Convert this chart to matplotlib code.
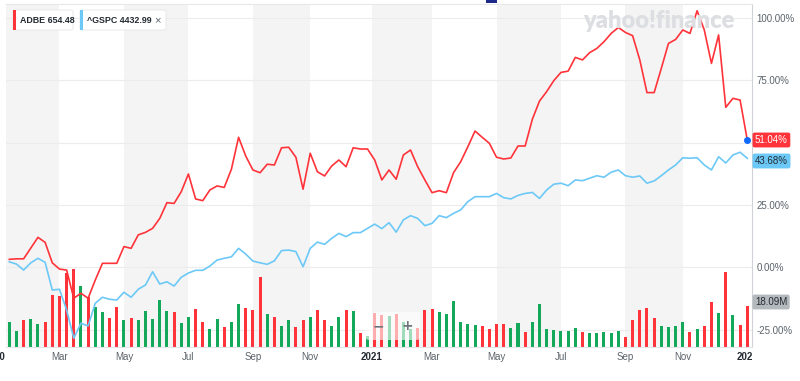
import numpy as np
import pandas as pd
import matplotlib
matplotlib.use("Agg")
import matplotlib.pyplot as plt
from matplotlib.patches import Rectangle, FancyBboxPatch
from matplotlib.transforms import blended_transform_factory, Bbox

plt.rcParams['font.family'] = ['Liberation Sans', 'DejaVu Sans']

# weekly data, Jan 2020 - Jan 2022 (percent change since start)
weeks = pd.date_range('2020-01-13', periods=104, freq='7D')

adbe_pct = [3.2, 3.4, 3.4, 7.7, 12.0, 10.0, 1.8, -0.7, -1.1, -12.4,
            -10.4, -12.4, -5.1, 1.6, 1.6, 1.6, 8.3, 7.6, 13.0, 14.0,
            15.6, 19.6, 25.9, 25.6, 30.3, 37.4, 27.4, 26.7, 31.0, 32.6,
            32.0, 39.3, 52.1, 44.6, 39.0, 37.9, 41.3, 41.0, 47.9, 48.1,
            44.1, 31.3, 45.7, 38.3, 36.6, 40.6, 43.0, 40.3, 47.9, 47.4,
            47.4, 43.0, 35.0, 39.0, 35.3, 45.0, 47.0, 40.3, 35.0, 29.9,
            30.7, 29.9, 37.9, 42.3, 48.3, 54.6, 52.1, 49.7, 44.1, 43.4,
            43.8, 48.6, 48.6, 59.3, 66.6, 70.4, 74.8, 78.1, 78.6, 84.1,
            83.1, 86.0, 87.7, 90.4, 93.7, 96.1, 94.1, 92.8, 83.1, 70.0,
            70.0, 79.7, 89.7, 91.3, 95.1, 93.7, 102.8, 95.1, 81.7, 93.1,
            64.1, 67.7, 67.0, 51.04]

gspc_pct = [2.2, 1.3, -1.1, 1.8, 3.6, 2.0, -9.1, -8.8, -17.1, -28.4,
            -22.4, -23.5, -14.4, -12.0, -12.8, -13.1, -10.0, -12.0, -8.8, -7.1,
            -1.8, -6.7, -5.8, -7.5, -4.0, -2.3, -1.2, -1.2, 0.5, 2.9,
            3.6, 4.2, 7.6, 5.3, 2.5, 1.8, 1.2, 2.6, 6.7, 6.9,
            6.3, 0.2, 7.6, 10.1, 9.2, 11.6, 13.6, 12.3, 13.9, 13.9,
            15.6, 17.3, 15.5, 17.9, 14.1, 19.0, 20.7, 19.6, 16.7, 17.6,
            20.7, 19.9, 21.6, 23.0, 26.3, 28.3, 28.3, 28.3, 29.6, 27.9,
            27.4, 28.8, 29.6, 30.0, 27.6, 31.0, 33.3, 33.7, 32.7, 35.0,
            34.7, 35.7, 36.7, 36.1, 38.1, 39.0, 36.7, 36.1, 36.6, 33.7,
            34.6, 36.7, 39.0, 41.0, 43.9, 43.7, 43.9, 41.0, 39.0, 44.3,
            41.8, 45.0, 46.1, 43.68]

adbe_vol_m = [11.2, 7.1, 12.0, 12.4, 10.3, 11.0, 22.8, 22.5, 32.4, 34.2,
              26.9, 22.2, 17.8, 15.6, 12.8, 17.8, 12.0, 12.8, 12.0, 15.9,
              12.3, 20.7, 15.9, 15.6, 10.6, 13.1, 16.8, 11.0, 7.9, 12.4,
              9.0, 11.0, 19.0, 17.1, 16.5, 30.7, 14.5, 13.4, 9.3, 11.8,
              9.0, 11.8, 13.1, 16.2, 12.0, 9.5, 13.1, 16.5, 15.9, 6.1,
              5.0, 14.9, 14.1, 13.6, 14.7, 11.0, 7.9, 8.3, 16.3, 16.6,
              15.3, 14.5, 20.3, 11.2, 10.2, 9.8, 9.3, 8.0, 10.1, 10.2,
              8.3, 10.5, 6.8, 11.2, 19.0, 7.9, 7.6, 7.3, 7.1, 8.3,
              6.7, 6.1, 6.1, 6.7, 6.4, 7.1, 4.6, 12.0, 16.3, 17.3,
              12.7, 9.5, 9.0, 9.3, 11.0, 6.8, 8.0, 9.3, 19.7, 14.9,
              33.1, 14.1, 9.8, 18.09]

# G = up week, R = down week
adbe_dir = ("GGRGGRRRRRGRGGRRGRGGGGGRGGRRGGRGGRRRGRGGRRGRRGGRGRGRRGR"
            "GGRRRGGGGGGRRRRGGRGGGGGGGRGGGGGRRRRRGGGGRGRRGRGRR")

# month ticks (week index of first week of each odd month)
tick_pos = [-2, 7, 16, 25, 34, 42, 50.6, 59, 68, 77, 86, 94, 103]
tick_lbl = ['2020', 'Mar', 'May', 'Jul', 'Sep', 'Nov', '2021',
            'Mar', 'May', 'Jul', 'Sep', 'Nov', '2022']

y_ticks = [-25, 0, 25, 50, 75, 100]

RED = '#ff333a'
BLUE = '#6cc9f7'
GREEN = '#14a85a'
TXT = '#5b636a'
DARK = '#232a31'

W, H = 800, 381
fig = plt.figure(figsize=(8, 3.81), dpi=100)

def fx(x):
    return x / W

def fy(y):
    return 1 - y / H

rect = [fx(6), fy(347.3), fx(752) - fx(6), fy(4) - fy(347.3)]
ax_v = fig.add_axes(rect)
ax = fig.add_axes(rect)
ax.patch.set_visible(False)

x = np.arange(len(weeks))
xlim = (-0.46, 103.66)

# background month bands
for a, b in [(-3, 7), (16, 25), (34, 42), (50.6, 59), (68, 77), (86, 94)]:
    ax_v.axvspan(a, b, color='#f4f4f4', lw=0, zorder=0)

# volume bars
colors = [GREEN if c == 'G' else RED for c in adbe_dir]
ax_v.bar(x, adbe_vol_m, width=0.42, color=colors, zorder=2)
ax_v.set_xlim(xlim)
ax_v.set_ylim(0, 150.4)
ax_v.axis('off')

# grid lines under the bars
gtr = blended_transform_factory(ax_v.transAxes, ax.transData)
for lvl in y_ticks:
    ax_v.plot([0, 1], [lvl, lvl], transform=gtr, color='#ececec', lw=0.8, zorder=1)

# price lines
ax.plot(x, gspc_pct, color=BLUE, lw=1.2, zorder=3)
ax.plot(x, adbe_pct, color=RED, lw=1.2, zorder=4)
ax.plot(x[-1], adbe_pct[-1], 'o', color='#0f69ff', ms=4, zorder=5)
ax.set_xlim(xlim)
ax.set_ylim(-32.05, 105.5)

ax.spines['left'].set_visible(False)
ax.spines['right'].set_color('#cfd2d6')
ax.spines['bottom'].set_color('#e3e5e8')
ax.spines['top'].set_color('#e8e8e8')
for s in ['right', 'bottom', 'top']:
    ax.spines[s].set_linewidth(0.8)

# the 50% label sits under the ADBE tag, so it is left blank
ax.yaxis.tick_right()
ax.set_yticks(y_ticks)
ax.set_yticklabels(['' if v == 50 else f'{v:.2f}%' for v in y_ticks])
ax.tick_params(axis='y', length=0, pad=3, labelsize=7, labelcolor=TXT)
ax.set_xticks([])

# x labels
xtr = blended_transform_factory(ax.transData, fig.transFigure)
clip = Bbox([[0, 0], [752, H]])
for p, lbl in zip(tick_pos, tick_lbl):
    year = lbl.isdigit()
    t = ax.text(p, fy(357), lbl, transform=xtr, ha='center', va='center',
                fontsize=7, color=DARK if year else TXT,
                fontweight='bold' if year else 'normal', clip_on=True)
    t.set_clip_box(clip)

# last-value tags
tag = dict(va='center', ha='left', zorder=10, fontsize=7)
fig.text(fx(755), fy(140), f'{adbe_pct[-1]:.2f}%', color='white',
         bbox=dict(boxstyle='round,pad=0.25,rounding_size=0.2', fc=RED, ec='none'), **tag)
fig.text(fx(755), fy(161), f'{gspc_pct[-1]:.2f}%', color=DARK,
         bbox=dict(boxstyle='round,pad=0.25,rounding_size=0.2', fc=BLUE, ec='none'), **tag)
fig.text(fx(755), fy(302), f'{adbe_vol_m[-1]:.2f}M', color=DARK,
         bbox=dict(boxstyle='round,pad=0.25,rounding_size=0.2', fc='#b4b9be', ec='none'), **tag)

# watermark
fig.text(fx(583), fy(21), 'yahoo!finance', fontsize=17, fontweight='heavy',
         family=['Lato', 'DejaVu Sans'], color='#dcdee2', va='center', ha='left', zorder=1)

# legend chips
def chip(x0, x1, col, label, close=False):
    box = FancyBboxPatch((fx(x0), fy(30)), fx(x1) - fx(x0), fy(10) - fy(30),
                         boxstyle='round,pad=0,rounding_size=0.004',
                         transform=fig.transFigure, fc='white', ec='#e6e6e6',
                         lw=0.6, zorder=8)
    fig.patches.append(box)
    fig.patches.append(Rectangle((fx(x0), fy(30)), fx(3.2), fy(10) - fy(30),
                                 transform=fig.transFigure, fc=col, ec='none', zorder=9))
    fig.text(fx(x0 + 7), fy(20.5), label, fontsize=6.4, fontweight='bold',
             color=DARK, va='center', ha='left', zorder=10)
    if close:
        fig.text(fx(x1 - 9), fy(20.5), '×', fontsize=8, color=TXT,
                 va='center', ha='center', zorder=10)

chip(13, 73, RED, 'ADBE 654.48')
chip(80, 166, BLUE, '^GSPC 4432.99', close=True)

# zoom control
zb = FancyBboxPatch((fx(366), fy(340)), fx(420) - fx(366), fy(312) - fy(340),
                    boxstyle='round,pad=0,rounding_size=0.005', transform=fig.transFigure,
                    fc='white', ec='none', alpha=0.6, zorder=8)
fig.patches.append(zb)
fig.text(fx(378), fy(326), '−', fontsize=10, fontweight='bold', color='#6e757c',
         ha='center', va='center', zorder=9, family=['DejaVu Sans'])
fig.text(fx(407), fy(326), '+', fontsize=10, fontweight='bold', color='#6e757c',
         ha='center', va='center', zorder=9, family=['DejaVu Sans'])

fig.patches.append(Rectangle((fx(486), fy(3)), fx(11), fy(0) - fy(3),
                             transform=fig.transFigure, fc='#1d2a8c', ec='none'))

fig.savefig('out.png', dpi=100)
